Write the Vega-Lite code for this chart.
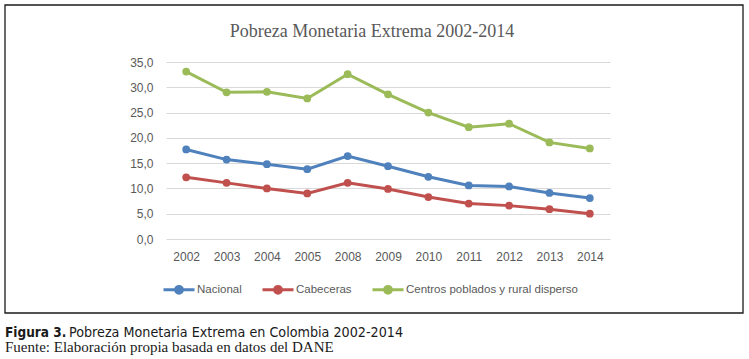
{
  "$schema": "https://vega.github.io/schema/vega-lite/v6.json",
  "width": 444,
  "height": 177,
  "autosize": {"type": "none"},
  "padding": {"left": 166, "top": 62, "right": 139, "bottom": 120},
  "background": "white",
  "config": {"view": {"stroke": null}},
  "data": {"values": [
    {"year": "2002", "serie": "Nacional", "value": 17.7},
    {"year": "2003", "serie": "Nacional", "value": 15.7},
    {"year": "2004", "serie": "Nacional", "value": 14.8},
    {"year": "2005", "serie": "Nacional", "value": 13.8},
    {"year": "2008", "serie": "Nacional", "value": 16.4},
    {"year": "2009", "serie": "Nacional", "value": 14.4},
    {"year": "2010", "serie": "Nacional", "value": 12.3},
    {"year": "2011", "serie": "Nacional", "value": 10.6},
    {"year": "2012", "serie": "Nacional", "value": 10.4},
    {"year": "2013", "serie": "Nacional", "value": 9.1},
    {"year": "2014", "serie": "Nacional", "value": 8.1},
    {"year": "2002", "serie": "Cabeceras", "value": 12.2},
    {"year": "2003", "serie": "Cabeceras", "value": 11.1},
    {"year": "2004", "serie": "Cabeceras", "value": 10.0},
    {"year": "2005", "serie": "Cabeceras", "value": 9.0},
    {"year": "2008", "serie": "Cabeceras", "value": 11.1},
    {"year": "2009", "serie": "Cabeceras", "value": 9.9},
    {"year": "2010", "serie": "Cabeceras", "value": 8.3},
    {"year": "2011", "serie": "Cabeceras", "value": 7.0},
    {"year": "2012", "serie": "Cabeceras", "value": 6.6},
    {"year": "2013", "serie": "Cabeceras", "value": 5.9},
    {"year": "2014", "serie": "Cabeceras", "value": 5.0},
    {"year": "2002", "serie": "Centros poblados y rural disperso", "value": 33.1},
    {"year": "2003", "serie": "Centros poblados y rural disperso", "value": 29.0},
    {"year": "2004", "serie": "Centros poblados y rural disperso", "value": 29.1},
    {"year": "2005", "serie": "Centros poblados y rural disperso", "value": 27.8},
    {"year": "2008", "serie": "Centros poblados y rural disperso", "value": 32.6},
    {"year": "2009", "serie": "Centros poblados y rural disperso", "value": 28.6},
    {"year": "2010", "serie": "Centros poblados y rural disperso", "value": 25.0},
    {"year": "2011", "serie": "Centros poblados y rural disperso", "value": 22.1},
    {"year": "2012", "serie": "Centros poblados y rural disperso", "value": 22.8},
    {"year": "2013", "serie": "Centros poblados y rural disperso", "value": 19.1},
    {"year": "2014", "serie": "Centros poblados y rural disperso", "value": 17.9}
  ]},
  "layer": [
    {
      "data": {"values": [{"k": 1}]},
      "mark": {"type": "rect", "x": -161, "x2": 577, "y": -57, "y2": 251, "fill": "transparent", "stroke": "#1a1a1a", "strokeWidth": 1.3, "clip": false},
      "encoding": {}
    },
    {
      "mark": {"type": "line", "strokeWidth": 3, "point": {"filled": true, "size": 60}},
      "encoding": {
        "x": {"field": "year", "type": "ordinal", "sort": null,
          "scale": {"type": "point", "padding": 0.5},
          "axis": {"title": null, "labelAngle": 0, "ticks": false, "domain": false,
            "labelFont": "Liberation Sans", "labelFontSize": 12, "labelColor": "#595959", "labelPadding": 12}},
        "y": {"field": "value", "type": "quantitative",
          "scale": {"domain": [0, 35], "nice": false},
          "axis": {"title": null, "values": [0, 5, 10, 15, 20, 25, 30, 35], "ticks": false, "domain": false,
            "gridColor": "#d9d9d9", "gridWidth": 1,
            "labelExpr": "replace(format(datum.value, '.1f'), '.', ',')",
            "labelFont": "Liberation Sans", "labelFontSize": 12, "labelColor": "#595959", "labelPadding": 13}},
        "color": {"field": "serie", "type": "nominal",
          "scale": {"domain": ["Nacional", "Cabeceras", "Centros poblados y rural disperso"], "range": ["#4f81bd", "#c0504d", "#9bbb59"]},
          "legend": {"title": null, "orient": "none", "direction": "horizontal", "legendX": -4, "legendY": 210.5,
            "symbolType": "M-1,0H1M0.22,0A0.22,0.22,0,1,1,-0.22,0A0.22,0.22,0,1,1,0.22,0",
            "symbolSize": 961, "symbolStrokeWidth": 3, "labelOffset": 1, "columnPadding": 14, "padding": 0,
            "labelFont": "Liberation Sans", "labelFontSize": 11.5, "labelColor": "#595959",
            "labelLimit": 300,
            "encode": {"symbols": {"update": {"fill": {"scale": "color", "field": "value"}, "stroke": {"scale": "color", "field": "value"}}}}}}
      }
    },
    {
      "data": {"values": [{"t": "Pobreza Monetaria Extrema 2002-2014"}]},
      "mark": {"type": "text", "x": 206, "y": -25, "align": "center", "baseline": "alphabetic", "font": "Liberation Serif", "fontSize": 18, "color": "#595959", "clip": false},
      "encoding": {"text": {"field": "t"}}
    },
    {
      "data": {"values": [{"t": "Figura 3."}]},
      "mark": {"type": "text", "x": -161, "y": 275, "align": "left", "baseline": "alphabetic", "font": "DejaVu Sans Condensed", "fontWeight": "bold", "fontSize": 13.5, "color": "#1a1a1a", "clip": false},
      "encoding": {"text": {"field": "t"}}
    },
    {
      "data": {"values": [{"t": "Pobreza Monetaria Extrema en Colombia 2002-2014"}]},
      "mark": {"type": "text", "x": -97, "y": 275, "align": "left", "baseline": "alphabetic", "font": "DejaVu Sans Condensed", "fontSize": 14.2, "color": "#1a1a1a", "clip": false},
      "encoding": {"text": {"field": "t"}}
    },
    {
      "data": {"values": [{"t": "Fuente: Elaboración propia basada en datos del DANE"}]},
      "mark": {"type": "text", "x": -161, "y": 290, "align": "left", "baseline": "alphabetic", "font": "Liberation Serif", "fontSize": 15, "color": "#1a1a1a", "clip": false},
      "encoding": {"text": {"field": "t"}}
    }
  ]
}
